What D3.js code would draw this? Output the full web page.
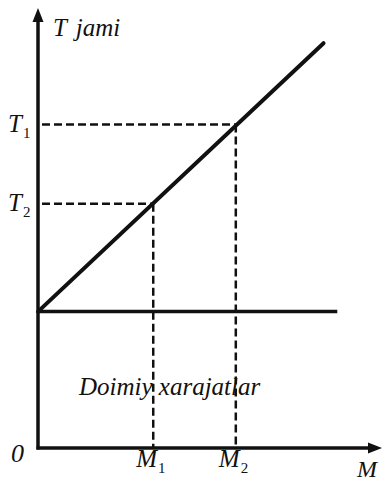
<!DOCTYPE html>
<html>
<head>
<meta charset="utf-8">
<script src="https://cdn.jsdelivr.net/npm/d3@7"></script>
<style>
  html, body { margin: 0; padding: 0; background: #fff; }
</style>
</head>
<body>
<div id="chart"></div>
<script>
// quantity produced (M) and cost (T) in arbitrary units
const lineM = [0, 8.3];          // total cost line
const lineT = [3.1, 9.2];
const fixedCost = 3.1;            // doimiy xarajatlar
const fixedEnd = 8.7;
const mValues = [3.35, 5.75];     // M1, M2
const mLabels = [["M", "1"], ["M", "2"]];
const tValues = [7.35, 5.55];     // T1, T2
const tLabels = [["T", "1"], ["T", "2"]];
const tAtM = [5.55, 7.35];        // total cost at M1, M2

const width = 386, height = 483;

const svg = d3.select("#chart")
    .append("svg")
    .attr("width", width)
    .attr("height", height)
    .attr("font-family", "'Liberation Serif', 'Times New Roman', Times, serif")
    .attr("font-style", "italic");

const x = d3.scaleLinear().domain([0, 10]).range([38, 382]);
const y = d3.scaleLinear().domain([0, 10]).range([448, 8]);

// dashed guides
const dash = svg.append("g")
    .attr("stroke", "#111")
    .attr("stroke-width", 2.5)
    .attr("stroke-dasharray", "8,4")
    .attr("fill", "none");

tValues.forEach(t => {
    const m = mValues[tAtM.indexOf(t)];
    dash.append("line")
        .attr("x1", x(0) + 4).attr("x2", x(m))
        .attr("y1", y(t)).attr("y2", y(t));
});
mValues.forEach((m, i) => {
    dash.append("line")
        .attr("x1", x(m)).attr("x2", x(m))
        .attr("y1", y(tAtM[i])).attr("y2", y(0));
});

// fixed cost line
svg.append("line")
    .attr("x1", x(0)).attr("x2", x(fixedEnd))
    .attr("y1", y(fixedCost)).attr("y2", y(fixedCost))
    .attr("stroke", "#111")
    .attr("stroke-width", 3.5);

// total cost line
svg.append("path")
    .datum(d3.zip(lineM, lineT))
    .attr("fill", "none")
    .attr("stroke", "#111")
    .attr("stroke-width", 4)
    .attr("stroke-linecap", "round")
    .attr("d", d3.line().x(d => x(d[0])).y(d => y(d[1])));

// axes
svg.append("line")
    .attr("x1", x(0)).attr("x2", x(0))
    .attr("y1", y(0) + 1.5).attr("y2", y(10) + 10)
    .attr("stroke", "#111").attr("stroke-width", 3.5);
svg.append("line")
    .attr("x1", x(0) - 1.5).attr("x2", x(10) - 10)
    .attr("y1", y(0)).attr("y2", y(0))
    .attr("stroke", "#111").attr("stroke-width", 3.5);

svg.append("path")
    .attr("d", `M${x(0)},${y(10)} L${x(0) - 5.5},${y(10) + 14} L${x(0) + 5.5},${y(10) + 14} Z`)
    .attr("fill", "#111");
svg.append("path")
    .attr("d", `M${x(10)},${y(0)} L${x(10) - 14},${y(0) - 5.5} L${x(10) - 14},${y(0) + 5.5} Z`)
    .attr("fill", "#111");

// labels
function subLabel(px, py, parts, size) {
    const t = svg.append("text")
        .attr("x", px).attr("y", py)
        .attr("font-size", size)
        .attr("fill", "#111");
    t.append("tspan").text(parts[0]);
    t.append("tspan").attr("font-size", 15).attr("font-style", "normal")
        .attr("dy", 6).attr("dx", 1).text(parts[1]);
}

tLabels.forEach((p, i) => subLabel(8, y(tValues[i]) + 7, p, 25));
mLabels.forEach((p, i) => subLabel(x(mValues[i]) - 17, 467, p, 25));

svg.append("text")
    .attr("x", 53).attr("y", 36)
    .attr("font-size", 25)
    .attr("word-spacing", 3)
    .attr("fill", "#111")
    .text("T jami");

svg.append("text")
    .attr("x", 11).attr("y", 462)
    .attr("font-size", 26)
    .attr("fill", "#111")
    .text("0");

svg.append("text")
    .attr("x", 357).attr("y", 477)
    .attr("font-size", 24)
    .attr("fill", "#111")
    .text("M");

svg.append("text")
    .attr("x", 79).attr("y", 395)
    .attr("font-size", 25)
    .attr("fill", "#111")
    .text("Doimiy xarajatlar");
</script>
</body>
</html>
